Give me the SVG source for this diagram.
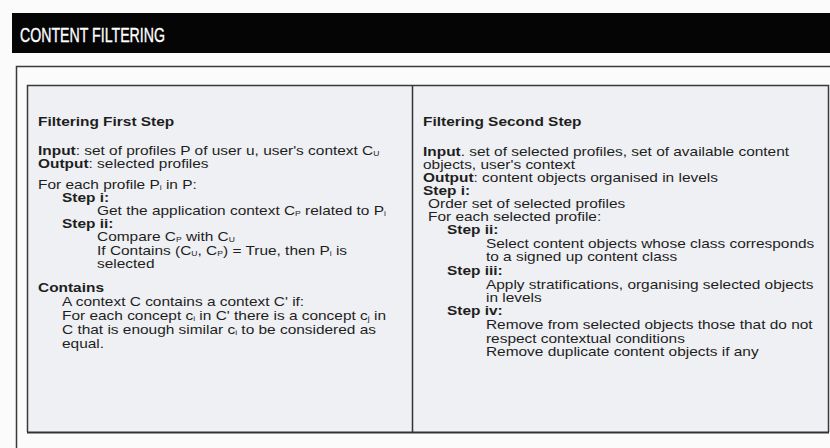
<svg xmlns="http://www.w3.org/2000/svg" width="830" height="448" viewBox="0 0 830 448">
  <style>
    .t { font-family: "Liberation Sans", Arial, sans-serif; font-size: 12.6px; fill: #1e1e1e; }
    .b { font-weight: bold; }
    .s { font-size: 7px; }
    .title { font-family: "Liberation Sans", Arial, sans-serif; font-size: 21px; fill: #ffffff; stroke: #ffffff; stroke-width: 0.35; }
    .frame { fill: none; stroke: #3a3a3a; stroke-width: 1.5; }
  </style>
  <rect width="830" height="448" fill="#fbfbfb"/>

  <!-- heading bar -->
  <g id="heading">
    <rect x="12" y="13" width="818" height="40" fill="#050505"/>
    <text class="title" x="20" y="42" textLength="145" lengthAdjust="spacingAndGlyphs">CONTENT FILTERING</text>
  </g>

  <!-- outer frame -->
  <path class="frame" d="M16.5 448 V66.5 H830"/>

  <!-- algorithm table -->
  <g id="table">
    <rect x="27" y="85" width="802" height="347" fill="#eef0f3"/>
    <path class="frame" d="M27.5 432 V85.5 H828.5 V432"/>
    <line x1="27" y1="432.5" x2="829" y2="432.5" stroke="#333" stroke-width="2"/>
    <line x1="412.5" y1="85" x2="412.5" y2="432" stroke="#333" stroke-width="1.5"/>
  </g>

  <!-- first step (text widened horizontally) -->
  <g id="first-step" class="t" transform="translate(38 0) scale(1.225 1)">
    <text class="b" x="0" y="126">Filtering First Step</text>
    <text x="0" y="155"><tspan class="b">Input</tspan>: set of profiles P of user u, user's context C<tspan class="s" dy="1.5">U</tspan></text>
    <text x="0" y="168"><tspan class="b">Output</tspan>: selected profiles</text>
    <text x="0" y="189">For each profile P<tspan class="s" dy="1.5">i</tspan><tspan dy="-1.5"> in P:</tspan></text>
    <text class="b" x="19.6" y="202">Step i:</text>
    <text x="48.2" y="215">Get the application context C<tspan class="s" dy="1.5">P</tspan><tspan dy="-1.5"> related to P</tspan><tspan class="s" dy="1.5">i</tspan></text>
    <text class="b" x="19.6" y="228">Step ii:</text>
    <text x="48.2" y="241">Compare C<tspan class="s" dy="1.5">P</tspan><tspan dy="-1.5"> with C</tspan><tspan class="s" dy="1.5">U</tspan></text>
    <text x="48.2" y="255">If Contains (C<tspan class="s" dy="1.5">U</tspan><tspan dy="-1.5">, C</tspan><tspan class="s" dy="1.5">P</tspan><tspan dy="-1.5">) = True, then P</tspan><tspan class="s" dy="1.5">i</tspan><tspan dy="-1.5"> is</tspan></text>
    <text x="48.2" y="268">selected</text>
    <text class="b" x="0" y="292">Contains</text>
    <text x="19.6" y="306">A context C contains a context C' if:</text>
    <text x="19.6" y="320">For each concept c<tspan class="s" dy="1.5">i</tspan><tspan dy="-1.5"> in C' there is a concept c</tspan><tspan class="s" dy="1.5">j</tspan><tspan dy="-1.5"> in</tspan></text>
    <text x="19.6" y="334">C that is enough similar c<tspan class="s" dy="1.5">i</tspan><tspan dy="-1.5"> to be considered as</tspan></text>
    <text x="19.6" y="348">equal.</text>
  </g>

  <!-- second step (text widened horizontally) -->
  <g id="second-step" class="t" transform="translate(423 0) scale(1.225 1)">
    <text class="b" x="0" y="126">Filtering Second Step</text>
    <text x="0" y="156"><tspan class="b">Input</tspan>. set of selected profiles, set of available content</text>
    <text x="0" y="169">objects, user's context</text>
    <text x="0" y="182"><tspan class="b">Output</tspan>: content objects organised in levels</text>
    <text class="b" x="0" y="195">Step i:</text>
    <text x="4.1" y="208">Order set of selected profiles</text>
    <text x="4.1" y="221">For each selected profile:</text>
    <text class="b" x="19.6" y="234">Step ii:</text>
    <text x="51.4" y="248">Select content objects whose class corresponds</text>
    <text x="51.4" y="261">to a signed up content class</text>
    <text class="b" x="19.6" y="275">Step iii:</text>
    <text x="51.4" y="289">Apply stratifications, organising selected objects</text>
    <text x="51.4" y="302">in levels</text>
    <text class="b" x="19.6" y="315">Step iv:</text>
    <text x="51.4" y="329">Remove from selected objects those that do not</text>
    <text x="51.4" y="343">respect contextual conditions</text>
    <text x="51.4" y="356">Remove duplicate content objects if any</text>
  </g>
</svg>
